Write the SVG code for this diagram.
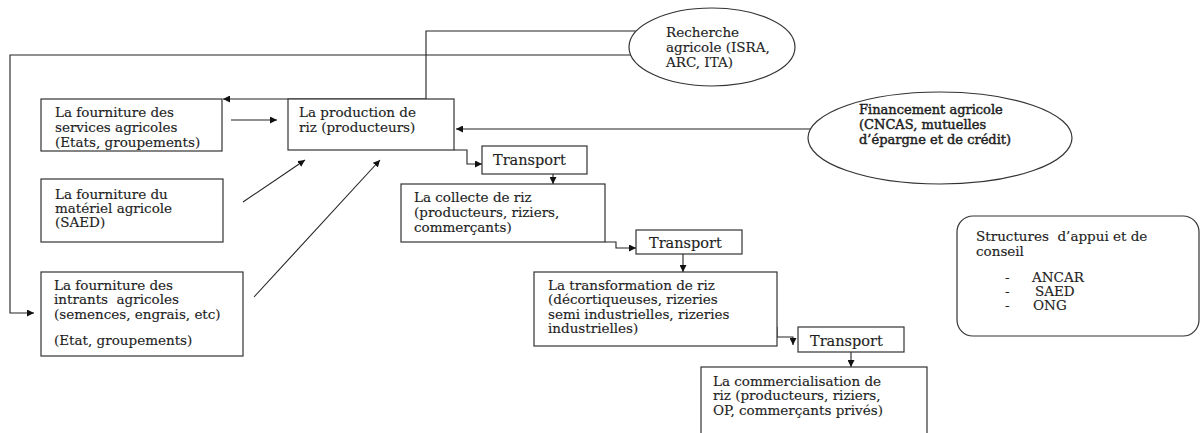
<svg xmlns="http://www.w3.org/2000/svg" width="1200" height="433" viewBox="0 0 1200 433">
<style>
.box{fill:#fff;stroke:#333;stroke-width:1.2}
.ln{fill:none;stroke:#222;stroke-width:1.1}
text{font-family:"DejaVu Serif","Liberation Serif",serif;font-size:13.5px;fill:#1e1e1e;stroke:#1e1e1e;stroke-width:0.15}
.b{font-size:13px;stroke-width:0.45}
.t{font-size:14.5px}
.pre{white-space:pre}
</style>
<defs>
<marker id="ah" viewBox="0 0 10 10" refX="10" refY="5" markerWidth="7" markerHeight="7" markerUnits="userSpaceOnUse" orient="auto">
<path d="M0,0 L10,5 L0,10 z" fill="#111"/>
</marker>
</defs>
<rect width="1200" height="433" fill="#fff"/>
<g id="connectors">
<path class="ln" d="M633,55 H10 V313 H34" marker-end="url(#ah)"/>
<path class="ln" d="M636,31 H426 V99 H223" marker-end="url(#ah)"/>
<path class="ln" d="M231,120 H277" marker-end="url(#ah)"/>
<path class="ln" d="M243,202 L305,160" marker-end="url(#ah)"/>
<path class="ln" d="M254,297 L380,160" marker-end="url(#ah)"/>
<path class="ln" d="M810,129 H456" marker-end="url(#ah)"/>
<path class="ln" d="M454,150 H467 V164 H482" marker-end="url(#ah)"/>
<path class="ln" d="M553,174 V184" marker-end="url(#ah)"/>
<path class="ln" d="M605,242 H616 V248 H636" marker-end="url(#ah)"/>
<path class="ln" d="M683,254 V272" marker-end="url(#ah)"/>
<path class="ln" d="M777,327 V337 H793 V345" marker-end="url(#ah)"/>
<path class="ln" d="M851,352 V367" marker-end="url(#ah)"/>
</g>
<g id="services">
<rect class="box" x="41" y="99" width="181" height="52"/>
<text x="55" y="117">La fourniture des</text>
<text x="55" y="132">services agricoles</text>
<text x="55" y="147">(Etats, groupements)</text>
</g>
<g id="production">
<rect class="box" x="288" y="99" width="166" height="51"/>
<text x="299" y="117">La production de</text>
<text x="299" y="132">riz (producteurs)</text>
</g>
<g id="materiel">
<rect class="box" x="41" y="179" width="182" height="63"/>
<text x="55" y="199">La fourniture du</text>
<text x="55" y="213">matériel agricole</text>
<text x="55" y="227">(SAED)</text>
</g>
<g id="intrants">
<rect class="box" x="41" y="272" width="202" height="84"/>
<text x="54" y="290">La fourniture des</text>
<text x="54" y="304" class="pre">intrants  agricoles</text>
<text x="54" y="319">(semences, engrais, etc)</text>
<text x="54" y="345">(Etat, groupements)</text>
</g>
<g id="recherche">
<ellipse class="box" cx="712" cy="47" rx="83" ry="39"/>
<text x="666" y="37">Recherche</text>
<text x="666" y="52">agricole (ISRA,</text>
<text x="666" y="67">ARC, ITA)</text>
</g>
<g id="financement">
<ellipse class="box" cx="940" cy="138" rx="132" ry="46"/>
<text x="859" y="114" class="b">Financement agricole</text>
<text x="859" y="129" class="b">(CNCAS, mutuelles</text>
<text x="859" y="144" class="b">d’épargne et de crédit)</text>
</g>
<g id="transport1">
<rect class="box" x="482" y="146" width="105" height="28"/>
<text x="493" y="165" class="t">Transport</text>
</g>
<g id="collecte">
<rect class="box" x="401" y="184" width="204" height="58"/>
<text x="414" y="202">La collecte de riz</text>
<text x="414" y="217">(producteurs, riziers,</text>
<text x="414" y="232">commerçants)</text>
</g>
<g id="transport2">
<rect class="box" x="636" y="230" width="106" height="24"/>
<text x="649" y="248" class="t">Transport</text>
</g>
<g id="transformation">
<rect class="box" x="534" y="272" width="243" height="74"/>
<text x="548" y="290">La transformation de riz</text>
<text x="548" y="304">(décortiqueuses, rizeries</text>
<text x="548" y="319">semi industrielles, rizeries</text>
<text x="548" y="333">industrielles)</text>
</g>
<g id="transport3">
<rect class="box" x="798" y="327" width="106" height="25"/>
<text x="810" y="346" class="t">Transport</text>
</g>
<g id="commercialisation">
<rect class="box" x="701" y="367" width="226" height="80"/>
<text x="713" y="386">La commercialisation de</text>
<text x="713" y="400">riz (producteurs, riziers,</text>
<text x="713" y="415">OP, commerçants privés)</text>
</g>
<g id="structures">
<rect class="box" x="957" y="216" width="242" height="120" rx="16" ry="16"/>
<text x="976" y="241" class="pre">Structures  d’appui et de</text>
<text x="976" y="256">conseil</text>
<text x="1005" y="282">-</text>
<text x="1032" y="282">ANCAR</text>
<text x="1005" y="296">-</text>
<text x="1035" y="296">SAED</text>
<text x="1005" y="310">-</text>
<text x="1033" y="310">ONG</text>
</g>
</svg>
